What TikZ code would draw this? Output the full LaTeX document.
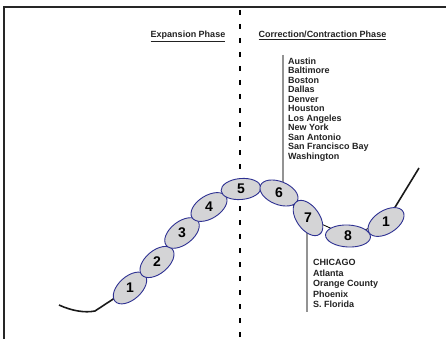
\documentclass[tikz,border=0pt]{standalone}
\usepackage{fontspec}
\setmainfont{Liberation Sans}
\usetikzlibrary{shapes.geometric}
\definecolor{ellfill}{HTML}{D4D4D6}
\definecolor{elldraw}{HTML}{2E3192}
\definecolor{txt}{HTML}{222222}
\tikzset{
  ell/.style={ellipse, draw=elldraw, fill=ellfill, line width=0.9pt, inner sep=0pt,
     minimum width=40pt, minimum height=23pt},
  wideell/.style={ell, minimum width=45pt, minimum height=22pt},
  head/.style={font=\fontsize{9}{9}\selectfont\bfseries, text=txt, anchor=base, inner sep=0pt},
  list/.style={font=\fontsize{9}{9.5}\selectfont\bfseries, text=txt, anchor=north west, inner sep=0pt, align=left},
  greyline/.style={draw=gray!85, line width=1.4pt},
  curve/.style={draw=black!90, line width=1.6pt},
}
\begin{document}
\begin{tikzpicture}[x=1pt,y=1pt]
\useasboundingbox (0,0) rectangle (446,-339);
% frame
\draw[line width=1.5pt, black!85] (4,-339) -- (4,-7) -- (446,-7);
% dashed divider
\coordinate (dtop) at (240,-10);
\coordinate (dbot) at (240,-339);
\draw[line width=2pt, black, dash pattern=on 5pt off 9pt] (dtop) -- (dbot);
% headings
\node[head] (hexp) at (188,-37.5) {\underline{Expansion Phase}};
\node[head] (hcor) at (322.5,-37.5) {\underline{Correction/Contraction Phase}};
% ellipse positions
\coordinate (p1) at (130,-288);
\coordinate (p2) at (157,-262);
\coordinate (p3) at (182,-233);
\coordinate (p4) at (209,-207);
\coordinate (p5) at (241,-189);
\coordinate (p6) at (279,-193);
\coordinate (p7) at (308,-218);
\coordinate (p8) at (348,-236);
\coordinate (p9) at (386,-222);
% grey leader lines
\coordinate (ltop) at (283,-55);
\coordinate (ltopend) at (283,-190);
\coordinate (lbot) at (307,-312);
\coordinate (lbotstart) at (307,-220);
\draw[greyline] (ltop) -- (ltopend);
\draw[greyline] (lbotstart) -- (lbot);
% tails
\coordinate (tailL) at (59,-305);
\coordinate (tailR) at (419,-168);
\draw[curve] (tailL) .. controls (72,-311) and (85,-313) .. (95,-311) -- (p1);
\draw[curve] (p9) -- (tailR);
% chain connectors
\draw[line width=0.8pt, black] (p1) -- (p2) -- (p3) -- (p4) -- (p5) -- (p6) -- (p7) -- (p8) -- (p9);
% ellipses
\node[ell, rotate=42] (e1) at (p1) {\rotatebox{-42}{\fontsize{14}{14}\selectfont\bfseries 1}};
\node[ell, rotate=40] (e2) at (p2) {\rotatebox{-40}{\fontsize{14}{14}\selectfont\bfseries 2}};
\node[ell, rotate=38] (e3) at (p3) {\rotatebox{-38}{\fontsize{14}{14}\selectfont\bfseries 3}};
\node[ell, rotate=32] (e4) at (p4) {\rotatebox{-32}{\fontsize{14}{14}\selectfont\bfseries 4}};
\node[ell, rotate=5, minimum height=21pt] (e5) at (p5) {\rotatebox{-5}{\fontsize{14}{14}\selectfont\bfseries 5}};
\node[ell, rotate=-22] (e6) at (p6) {\rotatebox{22}{\fontsize{14}{14}\selectfont\bfseries 6}};
\node[ell, rotate=-55] (e7) at (p7) {\rotatebox{55}{\fontsize{14}{14}\selectfont\bfseries 7}};
\node[wideell, rotate=-3] (e8) at (p8) {\rotatebox{3}{\fontsize{14}{14}\selectfont\bfseries 8}};
\node[ell, rotate=32] (e9) at (p9) {\rotatebox{-32}{\fontsize{14}{14}\selectfont\bfseries 1}};
% lists
\node[list] (toplist) at (288,-57.5) {Austin\\Baltimore\\Boston\\Dallas\\Denver\\Houston\\Los Angeles\\New York\\San Antonio\\San Francisco Bay\\Washington};
\node[list, font=\fontsize{9}{10.5}\selectfont\bfseries] (botlist) at (313,-259.5) {CHICAGO\\Atlanta\\Orange County\\Phoenix\\S. Florida};
\end{tikzpicture}
\end{document}
